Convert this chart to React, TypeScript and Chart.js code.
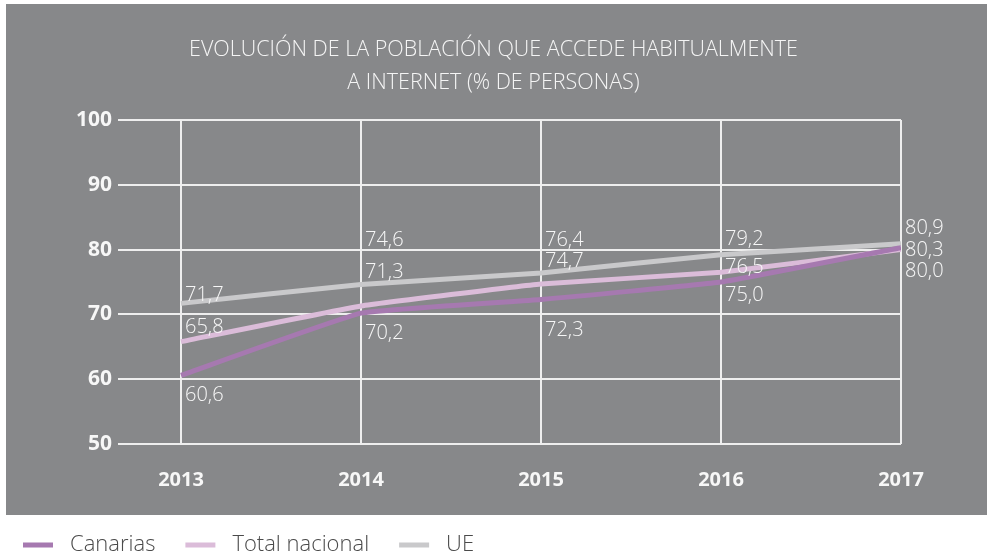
import React, { useEffect, useRef } from "react";
import { Chart, registerables } from "chart.js";

Chart.register(...registerables);

// ---- Data ----
const YEARS = [2013, 2014, 2015, 2016, 2017];
const CANARIAS = [60.6, 70.2, 72.3, 75.0, 80.3];
const TOTAL_NACIONAL = [65.8, 71.3, 74.7, 76.5, 80.0];
const UE = [71.7, 74.6, 76.4, 79.2, 80.9];
const SERIES_NAMES = ["Canarias", "Total nacional", "UE"];
const TITLE_LINES = [
  "EVOLUCIÓN DE LA POBLACIÓN QUE ACCEDE HABITUALMENTE",
  "A INTERNET (% DE PERSONAS)",
];
const Y_MIN = 50;
const Y_MAX = 100;
const Y_STEP = 10;

// ---- Styles ----
const COLORS = ["#a679b0", "#dbbcd9", "#c9c9cb"];
const BG = "#87888a";
const GRID = "#eeeeee";
const FONT = '"Open Sans", "DejaVu Sans", sans-serif';
// baseline offset (px) of each value label relative to its point
const LABEL_DY = [
  [26, 26, 37, 19, 8],
  [-9, -28, -17, 1, 27],
  [-2, -39, -27, -10, -10],
];

const fmt = (v: number) => v.toFixed(1).replace(".", ",");

const bgPlugin = {
  id: "panelBg",
  beforeDraw(chart: any) {
    const ctx = chart.ctx;
    ctx.save();
    ctx.fillStyle = "#ffffff";
    ctx.fillRect(0, 0, chart.width, chart.height);
    ctx.fillStyle = BG;
    ctx.fillRect(6, 4, chart.width - 6, 511);
    ctx.restore();
  },
};

const labelPlugin = {
  id: "valueLabels",
  afterDatasetsDraw(chart: any) {
    const ctx = chart.ctx;
    ctx.save();
    ctx.font = `300 20px ${FONT}`;
    ctx.fillStyle = "#f7f7f7";
    ctx.textAlign = "left";
    ctx.textBaseline = "alphabetic";
    chart.data.datasets.forEach((ds: any, i: number) => {
      const meta = chart.getDatasetMeta(i);
      meta.data.forEach((pt: any, j: number) => {
        const v = ds.data[j].y;
        ctx.fillText(fmt(v), pt.x + 4, pt.y + LABEL_DY[i][j]);
      });
    });
    ctx.restore();
  },
};

const legendPlugin = {
  id: "bottomLegend",
  afterDraw(chart: any) {
    const ctx = chart.ctx;
    ctx.save();
    ctx.font = `300 22px ${FONT}`;
    ctx.textBaseline = "middle";
    ctx.textAlign = "left";
    let x = 23;
    const y = 545;
    chart.data.datasets.forEach((ds: any) => {
      ctx.fillStyle = ds.borderColor;
      ctx.fillRect(x, y - 2.5, 30, 5);
      x += 30 + 17;
      ctx.fillStyle = "#4a4a4a";
      ctx.fillText(ds.label, x, y);
      x += ctx.measureText(ds.label).width + 30;
    });
    ctx.restore();
  },
};

export default function App() {
  const ref = useRef<HTMLCanvasElement>(null);

  useEffect(() => {
    if (!ref.current) return;
    const series = [CANARIAS, TOTAL_NACIONAL, UE];
    const chart = new Chart(ref.current, {
      type: "line",
      data: {
        datasets: series.map((s, i) => ({
          label: SERIES_NAMES[i],
          data: YEARS.map((yr, k) => ({ x: yr, y: s[k] })),
          borderColor: COLORS[i],
          backgroundColor: COLORS[i],
          borderWidth: 5,
          pointRadius: 0,
          tension: 0.1,
          fill: false,
        })),
      },
      options: {
        responsive: false,
        animation: false,
        layout: { padding: 0 },
        plugins: {
          legend: { display: false },
          tooltip: { enabled: false },
          title: {
            display: true,
            text: TITLE_LINES,
            color: "#f5f5f5",
            font: { family: FONT, size: 21.5, weight: "300", lineHeight: "33px" },
            padding: { top: 33, bottom: 21 },
          },
        },
        scales: {
          x: {
            type: "linear",
            min: 2012.65,
            max: 2017,
            border: { display: false },
            grid: { color: GRID, lineWidth: 2, drawTicks: false },
            ticks: {
              stepSize: 1,
              includeBounds: false,
              color: "#f7f7f7",
              padding: 24,
              font: { family: FONT, size: 20, weight: "bold" },
              callback: (v: any) => String(v),
            },
            afterFit: (s: any) => {
              s.height = 113;
            },
          },
          y: {
            type: "linear",
            min: Y_MIN,
            max: Y_MAX,
            border: { display: false },
            grid: { color: GRID, lineWidth: 2, drawTicks: false },
            ticks: {
              stepSize: Y_STEP,
              color: "#f7f7f7",
              padding: 6,
              font: { family: FONT, size: 21, weight: "bold" },
            },
            afterFit: (s: any) => {
              s.width = 118;
            },
          },
          yR: {
            type: "linear",
            position: "right",
            display: true,
            border: { display: false },
            grid: { display: false, drawTicks: false },
            ticks: { display: false },
            afterFit: (s: any) => {
              s.width = 86;
            },
          },
        },
      },
      plugins: [bgPlugin, labelPlugin, legendPlugin],
    } as any);
    return () => chart.destroy();
  }, []);

  return (
    <div style={{ position: "absolute", left: 0, top: 0, width: 987, height: 557 }}>
      <canvas ref={ref} width={987} height={557} style={{ display: "block" }} />
    </div>
  );
}
